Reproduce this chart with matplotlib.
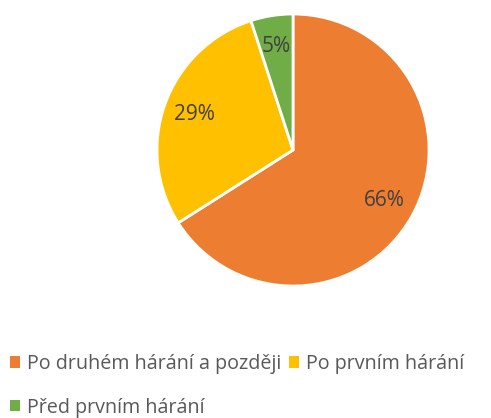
import matplotlib
matplotlib.use("Agg")
import matplotlib.pyplot as plt
from matplotlib.patches import Patch

plt.rcParams['font.family'] = ['Open Sans', 'DejaVu Sans']

# data
labels = ["Po druhém hárání a později", "Po prvním hárání", "Před prvním hárání"]
values = [66, 29, 5]
colors = ["#ED7D31", "#FFC000", "#70AD47"]

fig = plt.figure(figsize=(4.91, 4.18), dpi=100)
# pie centre ~ (293,150) px, radius ~136 px
ax = fig.add_axes([157/491, (418-286)/418, 272/491, 272/418])

wedges, texts, autotexts = ax.pie(
    values, colors=colors, startangle=90, counterclock=False,
    autopct="%d%%", pctdistance=0.77,
    wedgeprops=dict(edgecolor="white", linewidth=2),
    textprops=dict(color="#404040", fontsize=15),
)
ax.set_xlim(-1, 1)
ax.set_ylim(-1, 1)

# legend rows: A B / C
handles = [Patch(facecolor=c, edgecolor="none") for c in colors]
order = [0, 2, 1]
leg = fig.legend([handles[i] for i in order], [labels[i] for i in order],
                 ncol=2, loc="upper left", bbox_to_anchor=(10/491, 1 - 354/418),
                 frameon=False, fontsize=14.2, labelcolor="#595959",
                 handlelength=0.5, handleheight=0.5, handletextpad=0.35,
                 columnspacing=0.4, labelspacing=1.2, borderaxespad=0.0,
                 borderpad=0.0)

fig.savefig("out.png", dpi=100)
